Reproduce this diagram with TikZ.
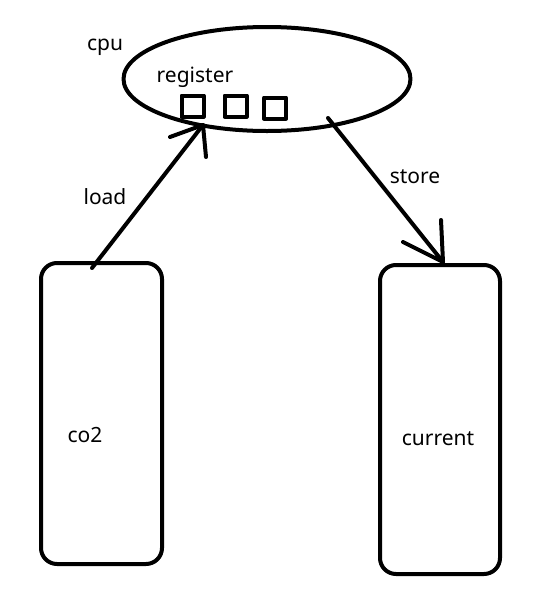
\documentclass[tikz,border=0pt]{standalone}
\usepackage{fontspec}
\setmainfont{Noto Sans}
\usetikzlibrary{shapes.geometric}
\begin{document}
\begin{tikzpicture}[x=1pt,y=-1pt,
  stroke/.style={line width=4pt,line cap=round,line join=round},
  lbl/.style={font=\fontsize{21}{23}\selectfont,inner sep=0pt},
  regbox/.style={stroke,draw,minimum width=22pt,minimum height=21pt,inner sep=0pt},
  membox/.style={stroke,draw,rounded corners=16pt,inner sep=0pt}]
\useasboundingbox[fill=white] (0,0) rectangle (560,603);
\node[stroke,draw,ellipse,minimum width=287pt,minimum height=104pt,inner sep=0pt] (cpu) at (267,79) {};
\node[lbl] (cpul) at (105,47) {cpu};
\node[lbl] (regl) at (195,77) {register};
\node[regbox] (r1) at (192.5,106) {};
\node[regbox] (r2) at (235.5,106) {};
\node[regbox] (r3) at (275,108) {};
\node[membox,minimum width=121pt,minimum height=301pt] (co2) at (101.5,413.5) {};
\node[lbl] (co2l) at (85,435) {co2};
\node[membox,minimum width=120pt,minimum height=309pt] (cur) at (440,419.5) {};
\node[lbl] (curl) at (438,439) {current};
\node[lbl] (loadl) at (105,197) {load};
\node[lbl] (storel) at (415,177) {store};
% load arrow
\coordinate (ls) at (92,268);
\coordinate (lt) at (203,125);
\coordinate (lb1) at (170,137);
\coordinate (lb2) at (206,157);
\draw[stroke] (ls) -- (lt);
\draw[stroke] (lb1) -- (lt) -- (lb2);
% store arrow
\coordinate (ss) at (328,118);
\coordinate (st) at (443,262);
\coordinate (sb1) at (403,242);
\coordinate (sb2) at (441,220);
\draw[stroke] (ss) -- (st);
\draw[stroke] (sb1) -- (st) -- (sb2);
\end{tikzpicture}
\end{document}
